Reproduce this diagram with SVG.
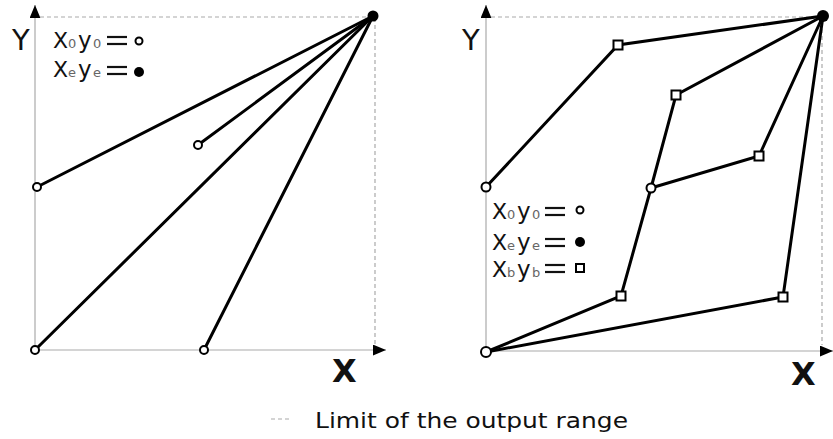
<svg xmlns="http://www.w3.org/2000/svg" width="833" height="439" viewBox="0 0 833 439">
<style>
.axis{stroke:#aaa;stroke-width:1.2;fill:none}
.lim{stroke:#aaa;stroke-width:1.2;stroke-dasharray:4 3;fill:none}
.ln{stroke:#000;stroke-width:3;fill:none;stroke-linecap:round}
.st{fill:#fff;stroke:#000;stroke-width:2}
.en{fill:#000}
.bx{fill:#fff;stroke:#000;stroke-width:2}
.t{font-family:"DejaVu Sans","Liberation Sans",sans-serif;fill:#111}
.bigX{font-size:22px}
.bigY{font-size:23px}
.sub{font-size:13px;fill:#666}
.eq{stroke:#111;stroke-width:2.2}
.ax{font-size:32px;font-weight:bold}
</style>
<defs>
<marker id="ah" viewBox="0 0 12 10" refX="12" refY="5" markerWidth="13" markerHeight="11" markerUnits="userSpaceOnUse" orient="auto">
<path d="M0,0 L12,5 L0,10 Z" fill="#000"/>
</marker>
</defs>

<g id="left-axes">
<line class="axis" x1="35" y1="350" x2="35" y2="5" marker-end="url(#ah)"/>
<line class="axis" x1="35" y1="350" x2="386" y2="350" marker-end="url(#ah)"/>
<path class="lim" d="M40,17 H375 V345"/>
<text class="t" x="12" y="50" font-size="29">Y</text>
<text class="t ax" x="332" y="382">X</text>
</g>

<g id="right-axes">
<line class="axis" x1="486" y1="351" x2="486" y2="5" marker-end="url(#ah)"/>
<line class="axis" x1="486" y1="351" x2="833" y2="351" marker-end="url(#ah)"/>
<path class="lim" d="M491,17 H822 V345"/>
<text class="t" x="462" y="50" font-size="29">Y</text>
<text class="t ax" x="791" y="385">X</text>
</g>

<g id="connectors">
<line class="ln" x1="37" y1="187" x2="373" y2="16"/>
<line class="ln" x1="198" y1="145" x2="373" y2="16"/>
<line class="ln" x1="35" y1="350" x2="373" y2="16"/>
<line class="ln" x1="204" y1="350" x2="373" y2="16"/>
<polyline class="ln" points="486,187 618,45 823,16"/>
<polyline class="ln" points="651,188 676,95 823,16"/>
<polyline class="ln" points="651,188 759,156 823,16"/>
<polyline class="ln" points="651,188 621,296 486,352"/>
<polyline class="ln" points="486,352 783,297 823,16"/>
</g>

<g id="left-nodes">
<circle id="l-s1" class="st" cx="37" cy="187" r="4"/>
<circle id="l-s2" class="st" cx="198" cy="145" r="4"/>
<circle id="l-s3" class="st" cx="35" cy="350" r="4"/>
<circle id="l-s4" class="st" cx="204" cy="350" r="4"/>
<circle id="l-end" class="en" cx="373" cy="16" r="5.5"/>
</g>

<g id="right-nodes">
<circle id="r-s1" class="st" cx="486" cy="187" r="4.5"/>
<circle id="r-s2" class="st" cx="651" cy="188" r="4.5"/>
<circle id="r-s3" class="st" cx="486" cy="352" r="5"/>
<rect id="r-b1" class="bx" x="613.5" y="40.5" width="9" height="9"/>
<rect id="r-b2" class="bx" x="671.5" y="90.5" width="9" height="9"/>
<rect id="r-b3" class="bx" x="754.5" y="151.5" width="9" height="9"/>
<rect id="r-b4" class="bx" x="616.5" y="291.5" width="9" height="9"/>
<rect id="r-b5" class="bx" x="778.5" y="292.5" width="9" height="9"/>
<circle id="r-end" class="en" cx="823" cy="16" r="6"/>
</g>

<g id="left-legend">
<text class="t" y="48"><tspan class="bigX" x="53">X</tspan><tspan class="sub" x="68">0</tspan><tspan class="bigY" x="78">y</tspan><tspan class="sub" x="93">0</tspan></text>
<line class="eq" x1="107" y1="37" x2="127" y2="37"/>
<line class="eq" x1="107" y1="44" x2="127" y2="44"/>
<circle class="st" cx="139" cy="41" r="3.5"/>
<text class="t" y="77"><tspan class="bigX" x="53">X</tspan><tspan class="sub" x="68">e</tspan><tspan class="bigY" x="78">y</tspan><tspan class="sub" x="93">e</tspan></text>
<line class="eq" x1="107" y1="67" x2="127" y2="67"/>
<line class="eq" x1="107" y1="74" x2="127" y2="74"/>
<circle class="en" cx="139" cy="72" r="5"/>
</g>

<g id="right-legend">
<text class="t" y="219"><tspan class="bigX" x="492">X</tspan><tspan class="sub" x="507">0</tspan><tspan class="bigY" x="517">y</tspan><tspan class="sub" x="532">0</tspan></text>
<line class="eq" x1="545" y1="208" x2="565" y2="208"/>
<line class="eq" x1="545" y1="215" x2="565" y2="215"/>
<circle class="st" cx="580" cy="210" r="3.5"/>
<text class="t" y="250"><tspan class="bigX" x="492">X</tspan><tspan class="sub" x="507">e</tspan><tspan class="bigY" x="517">y</tspan><tspan class="sub" x="532">e</tspan></text>
<line class="eq" x1="545" y1="239" x2="565" y2="239"/>
<line class="eq" x1="545" y1="246" x2="565" y2="246"/>
<circle class="en" cx="580" cy="242" r="5"/>
<text class="t" y="277"><tspan class="bigX" x="492">X</tspan><tspan class="sub" x="507">b</tspan><tspan class="bigY" x="517">y</tspan><tspan class="sub" x="532">b</tspan></text>
<line class="eq" x1="545" y1="265" x2="565" y2="265"/>
<line class="eq" x1="545" y1="272" x2="565" y2="272"/>
<rect class="bx" x="576" y="264" width="8" height="8"/>
</g>

<g id="bottom-legend">
<line class="lim" x1="271" y1="419" x2="289" y2="419"/>
<text class="t" x="315" y="428" font-size="22" textLength="313" lengthAdjust="spacingAndGlyphs">Limit of the output range</text>
</g>
</svg>
